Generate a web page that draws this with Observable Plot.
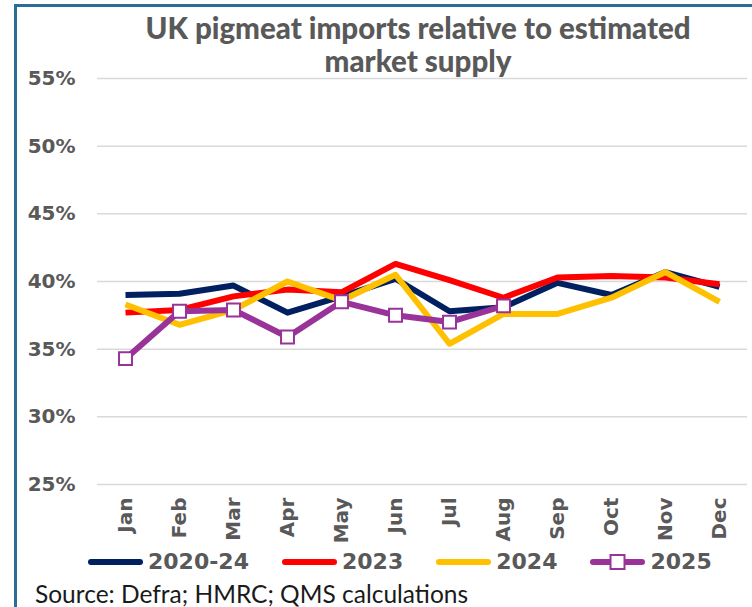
<!DOCTYPE html>
<html>
<head>
<meta charset="utf-8">
<script src="https://cdn.jsdelivr.net/npm/d3@7"></script>
<script src="https://cdn.jsdelivr.net/npm/@observablehq/plot@0.6"></script>
<style>
  html, body { margin: 0; padding: 0; background: #fff; }
  #wrap { position: relative; width: 752px; height: 607px; overflow: hidden; background: #fff; }
  #frameTop { position: absolute; left: 14px; top: 4px; width: 740px; height: 2.5px; background: #2b6e94; }
  #frameLeft { position: absolute; left: 14px; top: 4px; width: 2.5px; height: 610px; background: #2b6e94; }
  #title { position: absolute; left: 68px; width: 700px; top: 11px; text-align: center;
           font-family: Lato, "Open Sans", sans-serif; font-weight: 900; font-size: 29.5px;
           line-height: 33px; color: #595959; }
  #chart { position: absolute; left: 0; top: 60px; }
  #legend { position: absolute; left: 88px; top: 549px; display: flex; gap: 33px; align-items: center;
            font-family: "DejaVu Sans", sans-serif; font-weight: bold; font-size: 22px; color: #595959; }
  .item { display: flex; align-items: center; gap: 5px; }
  #caption { position: absolute; left: 35px; top: 583px; font-family: Lato, "Open Sans", sans-serif;
             font-size: 24.5px; line-height: 22px; color: #1a1a1a; white-space: nowrap; }
</style>
</head>
<body>
<div id="wrap">
  <div id="frameTop"></div>
  <div id="frameLeft"></div>
  <div id="title">UK pigmeat imports relative to estimated<br>market supply</div>
  <div id="chart"></div>
  <div id="legend"></div>
  <div id="caption">Source: Defra; HMRC; QMS calculations</div>
</div>
<script>
const months = ["Jan","Feb","Mar","Apr","May","Jun","Jul","Aug","Sep","Oct","Nov","Dec"];
const seriesNames = ["2020-24","2023","2024","2025"];
const seriesColors = ["#002060","#ff0000","#ffc000","#993399"];
const yTicks = [25,30,35,40,45,50,55];

const v2020_24 = [39.0, 39.1, 39.7, 37.7, 38.9, 40.2, 37.8, 38.1, 39.9, 39.0, 40.7, 39.6];
const v2023    = [37.7, 37.9, 38.9, 39.4, 39.2, 41.3, 40.1, 38.8, 40.3, 40.4, 40.3, 39.8];
const v2024    = [38.3, 36.8, 37.9, 40.0, 38.6, 40.5, 35.4, 37.6, 37.6, 38.8, 40.7, 38.5];
const v2025    = [34.3, 37.8, 37.9, 35.9, 38.5, 37.5, 37.0, 38.2];

const allValues = [v2020_24, v2023, v2024, v2025];
const rows = [];
allValues.forEach((arr, i) => arr.forEach((v, j) => rows.push({series: seriesNames[i], month: months[j], value: v})));
const rows2025 = rows.filter(d => d.series === "2025");

const plot = Plot.plot({
  width: 752,
  height: 490,
  marginTop: 18,
  marginBottom: 66,
  marginLeft: 97,
  marginRight: 5,
  style: {fontFamily: "'DejaVu Sans', sans-serif", fontWeight: "bold", fontSize: "20px", color: "#595959", background: "transparent", overflow: "visible"},
  x: {type: "point", domain: months, padding: 0.5, label: null},
  y: {domain: [25, 55], label: null},
  color: {domain: seriesNames, range: seriesColors},
  marks: [
    Plot.gridY(yTicks, {stroke: "#d9d9d9", strokeOpacity: 1, strokeWidth: 1.5}),
    Plot.axisY(yTicks, {tickSize: 0, tickPadding: 22, tickFormat: d => d + "%", label: null, fontSize: 20}),
    Plot.axisX({tickSize: 0, tickPadding: 13, tickRotate: -90, label: null, fontSize: 20}),
    Plot.line(rows, {x: "month", y: "value", z: "series", stroke: "series", strokeWidth: 6, strokeLinejoin: "round", strokeLinecap: "butt"}),
    Plot.dot(rows2025, {x: "month", y: "value", symbol: "square", r: 7.3, fill: "white", stroke: "#993399", strokeWidth: 2})
  ]
});
document.getElementById("chart").appendChild(plot);

// legend
const legend = document.getElementById("legend");
seriesNames.forEach((name, i) => {
  const item = document.createElement("div");
  item.className = "item";
  const marker = i === 3
    ? `<rect x="20.5" y="5" width="14" height="14" fill="white" stroke="${seriesColors[i]}" stroke-width="2"/>`
    : "";
  item.innerHTML = `<svg width="55" height="24" style="display:block"><line x1="3" x2="52" y1="12" y2="12" stroke="${seriesColors[i]}" stroke-width="6" stroke-linecap="round"/>${marker}</svg><span>${name}</span>`;
  legend.appendChild(item);
});
</script>
</body>
</html>
